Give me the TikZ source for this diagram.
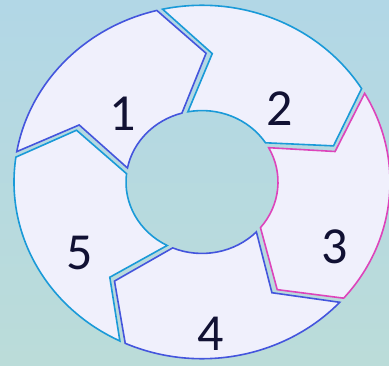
\documentclass[tikz,border=0pt]{standalone}
\usepackage{fontspec}
\setmainfont{Carlito}
\usepackage{tikz}
\usetikzlibrary{positioning}

\definecolor{bgtop}{HTML}{B2D7E6}
\definecolor{bgbot}{HTML}{BBDCD9}
\definecolor{segfill}{HTML}{F0F0FC}
\definecolor{royal}{HTML}{4455DD}
\definecolor{sky}{HTML}{1A9AD8}
\definecolor{pink}{HTML}{DD44BB}
\definecolor{ink}{HTML}{111133}

\begin{document}
\begin{tikzpicture}[
    x=1pt, y=1pt,
    seg/.style={fill=segfill, line width=1.6pt, line join=miter},
    digit/.style={inner sep=0pt, text=ink, font=\fontsize{52}{52}\selectfont}
]

% background
\useasboundingbox (-202,-183) rectangle (187,182);
\shade[top color=bgtop, bottom color=bgbot] (-202,-183) rectangle (187,182);

% ring segments, each one an arrow pointing clockwise
\begin{scope}[yscale=0.94]
\draw[seg, draw=royal] (170.1:188) arc[start angle=170.1, end angle=103.9, radius=188] -- (88.3:137) -- (105.3:76) arc[start angle=105.3, end angle=168.7, radius=76] -- (153.7:137) -- cycle;
\draw[seg, draw=sky] (102.1:188) arc[start angle=102.1, end angle=31.9, radius=188] -- (16.3:137) -- (33.3:76) arc[start angle=33.3, end angle=100.7, radius=76] -- (85.7:137) -- cycle;
\draw[seg, draw=pink] (30.1:188) arc[start angle=30.1, end angle=-41.1, radius=188] -- (-56.7:137) -- (-39.7:76) arc[start angle=-39.7, end angle=28.7, radius=76] -- (13.7:137) -- cycle;
\draw[seg, draw=royal] (-42.9:188) arc[start angle=-42.9, end angle=-114.1, radius=188] -- (-129.7:137) -- (-112.7:76) arc[start angle=-112.7, end angle=-44.3, radius=76] -- (-59.3:137) -- cycle;
\draw[seg, draw=sky] (-115.9:188) arc[start angle=-115.9, end angle=-188.1, radius=188] -- (-203.7:137) -- (-186.7:76) arc[start angle=-186.7, end angle=-117.3, radius=76] -- (-132.3:137) -- cycle;
\end{scope}

% numbers
\node[digit] (one) at (-79,68) {1};
\node[digit] (two) at (78,73) {2};
\node[digit] (three) at (133,-65) {3};
\node[digit] (four) at (9,-152) {4};
\node[digit] (five) at (-122,-71) {5};

\end{tikzpicture}
\end{document}
